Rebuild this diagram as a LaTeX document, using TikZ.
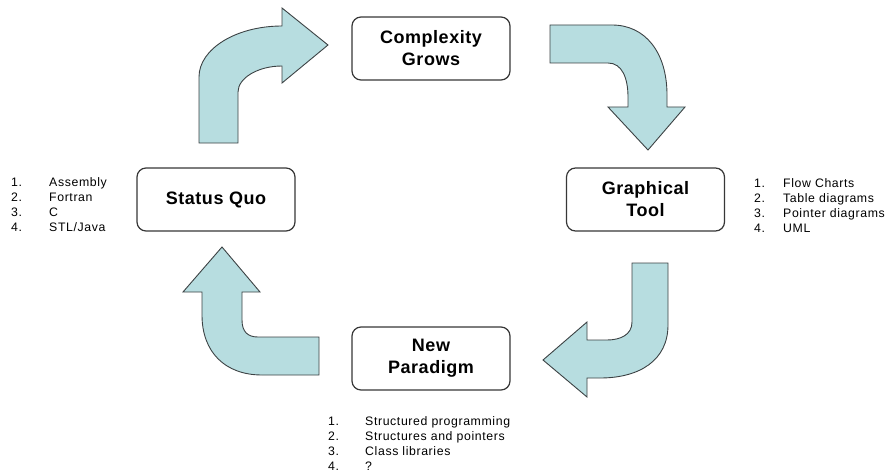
\documentclass[tikz,border=0pt]{standalone}
\usepackage{fontspec}
\setmainfont{Liberation Sans}
\newfontfamily\boxfont[LetterSpace=3]{Liberation Sans}
\newfontfamily\listfont[LetterSpace=5]{Liberation Sans}
\definecolor{arrowfill}{RGB}{183,221,224}
\definecolor{arrowline}{RGB}{60,66,68}
\definecolor{boxline}{RGB}{55,55,55}
\begin{document}
\begin{tikzpicture}[x=1pt,y=-1pt,
  stagebox/.style={draw=boxline, line width=1.2pt, rounded corners=9pt, fill=white,
    minimum width=158pt, minimum height=63pt, align=center, inner sep=0pt,
    font=\boxfont\bfseries\fontsize{18}{22}\selectfont},
  bentarrow/.style={draw=arrowline, line width=0.9pt, fill=arrowfill, line join=miter},
  listtext/.style={anchor=base west, inner sep=0pt, font=\listfont\fontsize{12.3}{15}\selectfont}]
\useasboundingbox (0,0) rectangle (896,476);

% stage boxes
\node[stagebox] (cg) at (431,48.5) {Complexity\\Grows};
\node[stagebox] (gt) at (645.5,199.5) {Graphical\\Tool};
\node[stagebox] (sq) at (216,199.5) {Status Quo};
\node[stagebox] (np) at (431,358.5) {New\\Paradigm};

% arrow 1: status quo -> complexity grows
\path[bentarrow] (199,143) -- (199,77) .. controls (199,49) and (236,26) .. (282,26)
  -- (282,8) -- (328,45) -- (282,83) -- (282,66)
  .. controls (258,66) and (238,78) .. (238,92) -- (238,143) -- cycle;

% arrow 2: complexity grows -> graphical tool
\path[bentarrow] (550,25) -- (612,25) .. controls (645,25) and (667,52) .. (667,95)
  -- (667,107) -- (685,107) -- (648,150) -- (608,107) -- (628,107) -- (628,97)
  .. controls (628,78) and (622,63) .. (608,63) -- (550,63) -- cycle;

% arrow 3: graphical tool -> new paradigm
\path[bentarrow] (632,263) -- (668,263) -- (668,325)
  .. controls (668,360) and (640,378) .. (600,378) -- (587,378)
  -- (587,397) -- (543,360) -- (587,322) -- (587,340) -- (607,340)
  .. controls (620,340) and (632,335) .. (632,322) -- cycle;

% arrow 4: new paradigm -> status quo
\path[bentarrow] (222,247) -- (260,292) -- (242,292) -- (242,320)
  .. controls (242,332) and (248,337) .. (258,337) -- (319,337) -- (319,375)
  -- (262,375) .. controls (225,375) and (202,352) .. (202,315)
  -- (202,292) -- (183,292) -- cycle;

% lists
\foreach \i/\t [count=\k] in {1/Assembly,2/Fortran,3/C,4/{STL/Java}}{
  \node[listtext] (sqn\k) at (11,{171.7+15*\k}) {\i.};
  \node[listtext] (sqt\k) at (49,{171.7+15*\k}) {\t};
}
\foreach \i/\t [count=\k] in {1/Flow Charts,2/Table diagrams,3/Pointer diagrams,4/UML}{
  \node[listtext] (gtn\k) at (754,{172+15*\k}) {\i.};
  \node[listtext] (gtt\k) at (783,{172+15*\k}) {\t};
}
\foreach \i/\t [count=\k] in {1/Structured programming,2/Structures and pointers,3/Class libraries,4/?}{
  \node[listtext] (npn\k) at (328,{410+15*\k}) {\i.};
  \node[listtext] (npt\k) at (365,{410+15*\k}) {\t};
}
\end{tikzpicture}
\end{document}
